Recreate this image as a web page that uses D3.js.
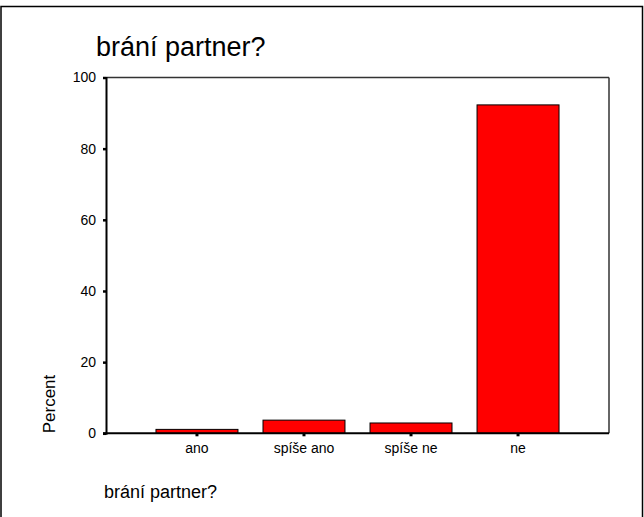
<!DOCTYPE html>
<html><head><meta charset="utf-8">
<script src="https://cdn.jsdelivr.net/npm/d3@7"></script>
<style>body{margin:0;background:#fff}svg{display:block}text{font-family:"Liberation Sans",Arial,sans-serif;fill:#000}</style>
</head><body>
<script>
const categories = ["ano", "spíše ano", "spíše ne", "ne"];
const percents = [1.1, 3.7, 2.9, 92.3];
const yTicks = [0, 20, 40, 60, 80, 100];
const chartTitle = "brání partner?";
const xTitle = "brání partner?";
const yTitle = "Percent";

const W = 644, H = 517;
const svg = d3.select("body").append("svg").attr("width", W).attr("height", H);
svg.append("rect").attr("x", 1).attr("y", 6.5).attr("width", 641.5).attr("height", 520)
  .attr("fill", "none").attr("stroke", "#000").attr("stroke-width", 1.5);

const L = 106, R = 609, T = 77.5, B = 433.3;
const x = d3.scaleBand().domain(categories).range([L, R]).paddingInner(0.234).paddingOuter(0.467);
const y = d3.scaleLinear().domain([0, 100]).range([B, T]);

// frame
svg.append("line").attr("x1", L).attr("x2", R).attr("y1", T).attr("y2", T).attr("stroke", "#333").attr("stroke-width", 1.5);
svg.append("line").attr("x1", R).attr("x2", R).attr("y1", T).attr("y2", B).attr("stroke", "#333").attr("stroke-width", 1.5);

// bars
svg.selectAll("rect.bar").data(categories).enter().append("rect").attr("class", "bar")
  .attr("x", d => x(d)).attr("width", x.bandwidth())
  .attr("y", (d, i) => y(percents[i])).attr("height", (d, i) => B - y(percents[i]))
  .attr("fill", "#ff0000").attr("stroke", "#000").attr("stroke-width", 1);

// y axis
const ya = svg.append("g").attr("transform", `translate(${L},0)`)
  .call(d3.axisLeft(y).tickValues(yTicks).tickSize(3).tickPadding(7).tickFormat(d3.format("d")));
ya.select(".domain").attr("stroke", "#000").attr("stroke-width", 2);
ya.selectAll(".tick line").attr("stroke", "#000").attr("stroke-width", 2.5);
ya.selectAll(".tick text").style("font-size", "14px").attr("font-family", "Liberation Sans, Arial, sans-serif");

// x axis
const xa = svg.append("g").attr("transform", `translate(0,${B})`)
  .call(d3.axisBottom(x).tickSize(3).tickPadding(7));
xa.select(".domain").attr("stroke", "#000").attr("stroke-width", 2).attr("d", `M${L - 3},0H${R}`);
xa.selectAll(".tick line").attr("stroke", "#000").attr("stroke-width", 3);
xa.selectAll(".tick text").style("font-size", "14px").attr("font-family", "Liberation Sans, Arial, sans-serif");

// titles
svg.append("text").attr("x", 96).attr("y", 56).style("font-size", "27px").text(chartTitle);
svg.append("text").attr("x", 104).attr("y", 498).style("font-size", "18px").text(xTitle);
svg.append("text").attr("transform", `translate(55,${B}) rotate(-90)`).style("font-size", "17px").text(yTitle);
</script>
</body></html>
